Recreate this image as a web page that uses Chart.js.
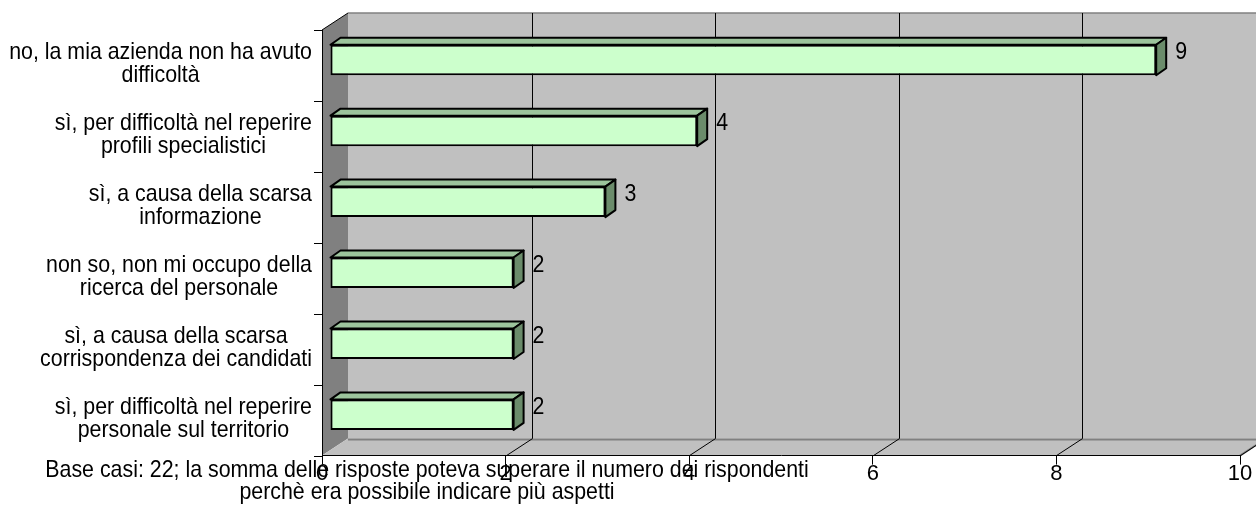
<!DOCTYPE html>
<html>
<head>
<meta charset="utf-8">
<script src="https://cdn.jsdelivr.net/npm/chart.js@4/dist/chart.umd.min.js"></script>
<style>
  body { margin: 0; background: #fff; }
  #wrap { width: 1256px; height: 526px; }
</style>
</head>
<body>
<div id="wrap"><canvas id="chart"></canvas></div>
<script>
// data
const categories = [
    ["no, la mia azienda non ha avuto", "difficoltà"],
    ["sì, per difficoltà nel reperire", "profili specialistici"],
    ["sì, a causa della scarsa", "informazione"],
    ["non so, non mi occupo della", "ricerca del personale"],
    ["sì, a causa della scarsa", "corrispondenza dei candidati"],
    ["sì, per difficoltà nel reperire", "personale sul territorio"]
];
const values = [9, 4, 3, 2, 2, 2];
const xTicks = [0, 2, 4, 6, 8, 10];
const note = [
    "Base casi: 22; la somma delle risposte poteva superare il numero dei rispondenti",
    "perchè era possibile indicare più aspetti"
];

const FAMILY = "'Liberation Sans', Arial, sans-serif";
const FONT = "24px " + FAMILY;
const SQUEEZE = 0.89;          // excel text looks a bit condensed
const DX = 26, DY = -17;       // wall depth
const BX = 8, BY = -5.5;       // bar shift (mid depth)
const BDX = 10, BDY = -7;      // bar depth

function text(ctx, s, x, y) {
    ctx.save();
    ctx.translate(x, y);
    ctx.scale(SQUEEZE, 1);
    ctx.fillText(s, 0, 0);
    ctx.restore();
}

// walls, floor and back gridlines
const walls = {
    id: "walls",
    beforeDraw(chart) {
        const ctx = chart.ctx, a = chart.chartArea, x = chart.scales.x;
        ctx.save();
        // back wall
        ctx.fillStyle = "#c0c0c0";
        ctx.fillRect(a.left + DX, a.top + DY, a.right - a.left, a.bottom - a.top);
        ctx.strokeStyle = "#808080";
        ctx.lineWidth = 1.5;
        ctx.beginPath();
        ctx.moveTo(a.left + DX, a.top + DY);
        ctx.lineTo(a.right + DX, a.top + DY);
        ctx.stroke();
        // left wall
        ctx.fillStyle = "#808080";
        ctx.beginPath();
        ctx.moveTo(a.left, a.top);
        ctx.lineTo(a.left + DX, a.top + DY);
        ctx.lineTo(a.left + DX, a.bottom + DY);
        ctx.lineTo(a.left, a.bottom);
        ctx.closePath();
        ctx.fill();
        ctx.strokeStyle = "#000";
        ctx.lineWidth = 1;
        ctx.beginPath();
        ctx.moveTo(a.left, a.top);
        ctx.lineTo(a.left + DX, a.top + DY);
        ctx.stroke();
        // floor
        ctx.fillStyle = "#c0c0c0";
        ctx.beginPath();
        ctx.moveTo(a.left, a.bottom);
        ctx.lineTo(a.left + DX, a.bottom + DY);
        ctx.lineTo(a.right + DX, a.bottom + DY);
        ctx.lineTo(a.right, a.bottom);
        ctx.closePath();
        ctx.fill();
        ctx.strokeStyle = "#808080";
        ctx.lineWidth = 2;
        ctx.beginPath();
        ctx.moveTo(a.left + DX, a.bottom + DY + 1);
        ctx.lineTo(a.right + DX, a.bottom + DY + 1);
        ctx.moveTo(a.right, a.bottom);
        ctx.lineTo(a.right + DX, a.bottom + DY);
        ctx.stroke();
        // gridlines on back wall + floor
        ctx.strokeStyle = "#000";
        ctx.lineWidth = 1;
        xTicks.forEach(v => {
            if (v === 0) return;
            const px = Math.round(x.getPixelForValue(v)) + 0.5;
            ctx.beginPath();
            ctx.moveTo(px + DX, a.top + DY);
            ctx.lineTo(px + DX, a.bottom + DY);
            ctx.lineTo(px, a.bottom);
            ctx.stroke();
        });
        // left axis line and ticks
        ctx.beginPath();
        ctx.moveTo(a.left + 0.5, a.top);
        ctx.lineTo(a.left + 0.5, a.bottom);
        const step = (a.bottom - a.top) / categories.length;
        for (let i = 0; i <= categories.length; i++) {
            const y = Math.round(a.top + i * step) + 0.5;
            ctx.moveTo(a.left - 8, y);
            ctx.lineTo(a.left, y);
        }
        ctx.stroke();
        ctx.restore();
    }
};

// 3D bar faces, labels, note
const bars3d = {
    id: "bars3d",
    beforeDatasetsDraw(chart) {
        const ctx = chart.ctx;
        ctx.save();
        ctx.translate(BX, BY);
        ctx.lineWidth = 2;
        ctx.strokeStyle = "#000";
        ctx.lineJoin = "round";
        chart.getDatasetMeta(0).data.forEach(b => {
            const L = b.base, R = b.x, T = b.y - b.height / 2, B = b.y + b.height / 2;
            ctx.fillStyle = "#9cc49c";
            ctx.beginPath();
            ctx.moveTo(L, T);
            ctx.lineTo(L + BDX, T + BDY);
            ctx.lineTo(R + BDX, T + BDY);
            ctx.lineTo(R, T);
            ctx.closePath();
            ctx.fill();
            ctx.stroke();
            ctx.fillStyle = "#6b8c6b";
            ctx.beginPath();
            ctx.moveTo(R, T);
            ctx.lineTo(R + BDX, T + BDY);
            ctx.lineTo(R + BDX, B + BDY);
            ctx.lineTo(R, B);
            ctx.closePath();
            ctx.fill();
            ctx.stroke();
        });
    },
    afterDatasetsDraw(chart) {
        const ctx = chart.ctx, x = chart.scales.x, y = chart.scales.y, a = chart.chartArea;
        ctx.restore();
        ctx.save();
        ctx.font = FONT;
        ctx.fillStyle = "#000";
        ctx.textBaseline = "middle";
        // value labels
        ctx.textAlign = "left";
        values.forEach((v, i) => {
            text(ctx, String(v), x.getPixelForValue(v) + 27, y.getPixelForValue(i) - 13);
        });
        // category labels: centred blocks, right edge near axis
        ctx.textAlign = "center";
        const lh = 22.5;
        categories.forEach((lines, i) => {
            const w = Math.max(...lines.map(s => ctx.measureText(s).width)) * SQUEEZE;
            const cx = a.left - 10 - w / 2;
            const cy = y.getPixelForValue(i) - 1.5;
            lines.forEach((s, j) => {
                text(ctx, s, cx, cy + (j - (lines.length - 1) / 2) * lh);
            });
        });
        // note under the chart
        note.forEach((s, j) => text(ctx, s, 427, 470 + j * 22.5));
        ctx.restore();
    }
};

new Chart(document.getElementById("chart"), {
    type: "bar",
    data: {
        labels: categories,
        datasets: [{
            data: values,
            backgroundColor: "#ccffcc",
            borderColor: "#000",
            borderWidth: 2,
            borderSkipped: false,
            categoryPercentage: 1,
            barPercentage: 0.43,
            clip: false
        }]
    },
    options: {
        indexAxis: "y",
        responsive: true,
        maintainAspectRatio: false,
        animation: false,
        layout: { padding: { left: 322, right: 16, top: 30, bottom: 43 } },
        plugins: { legend: { display: false }, tooltip: { enabled: false } },
        scales: {
            x: {
                min: 0, max: 10,
                afterBuildTicks: s => { s.ticks = xTicks.map(v => ({ value: v })); },
                ticks: { color: "#000", font: { family: FAMILY, size: 22 }, padding: -4, maxRotation: 0 },
                grid: { drawOnChartArea: false, drawTicks: true, tickLength: 9, color: "#000" },
                border: { display: true, color: "#000", width: 1 }
            },
            y: { display: false }
        }
    },
    plugins: [walls, bars3d]
});
</script>
</body>
</html>
